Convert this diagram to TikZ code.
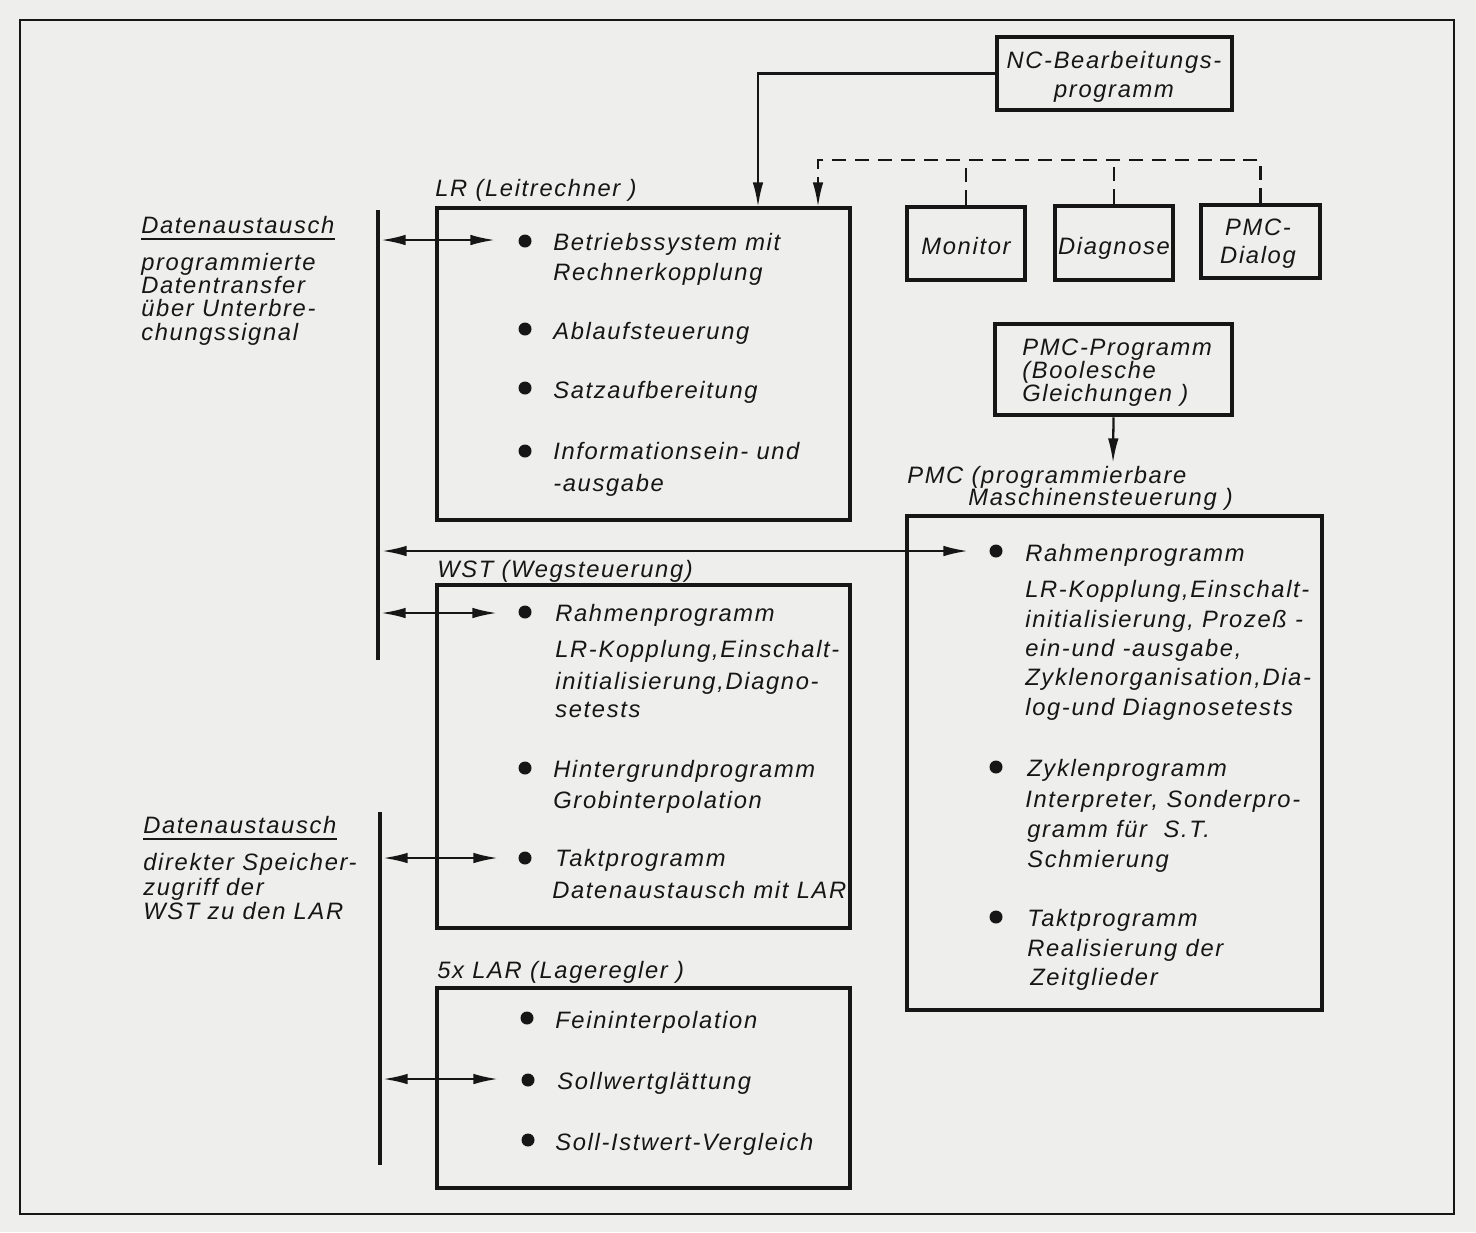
\documentclass[tikz,border=0pt]{standalone}
\usepackage{fontspec}
\newfontfamily\dinfont[LetterSpace=7.0]{Liberation Sans}
\usetikzlibrary{arrows.meta,calc}
\definecolor{paper}{RGB}{238,238,236}
\definecolor{ink}{RGB}{22,22,22}
\tikzset{arr/.tip={Latex[length=14pt,width=6pt]}}
\newcommand\mybox[5]{\node[box,minimum width={(#4-#2)*0.02cm},minimum height={(#5-#3)*0.02cm}] (#1) at ({(#2+#4)/2},{(#3+#5)/2}) {};}
\newcommand\tl[4]{\node[txt] (#1) at (#2,#3) {#4};}
\newcommand\ctl[4]{\node[ctxt] (#1) at (#2,#3) {#4};}
\newcommand\bul[2]{\fill[ink] (#1,#2) circle (6.5);}
\begin{document}
\begin{tikzpicture}[x=0.02cm,y=-0.02cm,
  txt/.style={inner sep=0pt, anchor=base west, font=\dinfont\itshape\fontsize{13.5}{16}\selectfont, text=ink},
  ctxt/.style={txt, anchor=base},
  box/.style={draw=ink, line width=2.8pt, inner sep=0pt},
  conn/.style={draw=ink, line width=1.3pt},
  dashline/.style={draw=ink, line width=1.3pt, dash pattern=on 8pt off 5pt},
  bus/.style={draw=ink, line width=2.8pt},
  frame/.style={draw=ink, line width=1.2pt}]
\fill[paper] (0,0) rectangle (1476,1232);
\useasboundingbox (0,0) rectangle (1476,1232);
\draw[frame] (20,20) rectangle (1454,1214);

% boxes
\mybox{nc}{997}{37}{1232}{110}
\mybox{mon}{907}{207}{1025}{280}
\mybox{diag}{1055}{206}{1173}{280}
\mybox{pmcd}{1201}{205}{1320}{278}
\mybox{lr}{437}{208}{850}{520}
\mybox{pmcp}{995}{324}{1232}{415}
\mybox{pmc}{907}{516}{1322}{1010}
\mybox{wst}{437}{585}{850}{928}
\mybox{lar}{437}{988}{850}{1188}

% box texts
\ctl{nc1}{1114}{68}{NC-Bearbeitungs-}
\ctl{nc2}{1114}{97}{programm}
\ctl{mont}{966}{254}{Monitor}
\ctl{diagt}{1114}{254}{Diagnose}
\ctl{pmcd1}{1258}{235}{PMC-}
\ctl{pmcd2}{1258}{263}{Dialog}
\tl{pp1}{1022}{355}{PMC-Programm}
\tl{pp2}{1022}{378}{(Boolesche}
\tl{pp3}{1022}{401}{Gleichungen )}

% labels
\tl{lrl}{435}{196}{LR (Leitrechner )}
\tl{wstl}{437}{577}{WST (Wegsteuerung)}
\tl{larl}{437}{978}{5x LAR (Lageregler )}
\tl{pmcl1}{907}{483}{PMC (programmierbare}
\tl{pmcl2}{968}{505}{Maschinensteuerung )}

% left texts
\tl{da1}{141}{233}{Datenaustausch}
\draw[conn] ($(da1.base west)+(0,6)$) -- ($(da1.base east)+(0,6)$);
\tl{da1a}{141}{270}{programmierte}
\tl{da1b}{141}{293}{Datentransfer}
\tl{da1c}{141}{316}{über Unterbre-}
\tl{da1d}{141}{340}{chungssignal}
\tl{da2}{143}{833}{Datenaustausch}
\draw[conn] ($(da2.base west)+(0,6)$) -- ($(da2.base east)+(0,6)$);
\tl{da2a}{143}{870}{direkter Speicher-}
\tl{da2b}{143}{895}{zugriff der}
\tl{da2c}{143}{919}{WST zu den LAR}

% LR items
\bul{525}{241}\tl{lr1}{553}{250}{Betriebssystem mit}
\tl{lr2}{553}{280}{Rechnerkopplung}
\bul{525}{329}\tl{lr3}{553}{339}{Ablaufsteuerung}
\bul{525}{388}\tl{lr4}{553}{398}{Satzaufbereitung}
\bul{525}{451}\tl{lr5}{553}{459}{Informationsein- und}
\tl{lr6}{553}{491}{-ausgabe}

% WST items
\bul{525}{612}\tl{w1}{555}{621}{Rahmenprogramm}
\tl{w2}{555}{657}{LR-Kopplung,Einschalt-}
\tl{w3}{555}{689}{initialisierung,Diagno-}
\tl{w4}{555}{717}{setests}
\bul{525}{768}\tl{w5}{553}{777}{Hintergrundprogramm}
\tl{w6}{553}{808}{Grobinterpolation}
\bul{525}{858}\tl{w7}{555}{866}{Taktprogramm}
\tl{w8}{552}{898}{Datenaustausch mit LAR}

% LAR items
\bul{527}{1018}\tl{l1}{555}{1028}{Feininterpolation}
\bul{528}{1080}\tl{l2}{557}{1089}{Sollwertglättung}
\bul{528}{1140}\tl{l3}{555}{1150}{Soll-Istwert-Vergleich}

% PMC items
\bul{996}{551}\tl{p1}{1025}{561}{Rahmenprogramm}
\tl{p2}{1025}{597}{LR-Kopplung,Einschalt-}
\tl{p3}{1025}{627}{initialisierung, Prozeß -}
\tl{p4}{1025}{656}{ein-und -ausgabe,}
\tl{p5}{1025}{685}{Zyklenorganisation,Dia-}
\tl{p6}{1025}{715}{log-und Diagnosetests}
\bul{996}{767}\tl{p7}{1027}{776}{Zyklenprogramm}
\tl{p8}{1025}{807}{Interpreter, Sonderpro-}
\tl{p9}{1027}{837}{gramm für~~S.T.}
\tl{p10}{1027}{867}{Schmierung}
\bul{996}{917}\tl{p11}{1027}{926}{Taktprogramm}
\tl{p12}{1027}{956}{Realisierung der}
\tl{p13}{1030}{985}{Zeitglieder}

% connectors from top
\coordinate (lrA) at (758,207);
\coordinate (lrB) at (818,207);
\coordinate (dL) at (818,160);
\draw[conn,-arr] (nc.west) -| (lrA);
\draw[dashline,-arr] (pmcd.north) |- (dL) -- (lrB);
\draw[dashline] (mon.north) -- (mon.north |- dL);
\draw[dashline] (diag.north) -- (diag.north |- dL);
\coordinate (pmcArr) at (1113,463);
\draw[conn,-arr] (pmcp.south) -- (pmcArr);

% buses
\coordinate (b1t) at (378,210);
\coordinate (b1b) at (378,660);
\coordinate (b2t) at (380,812);
\coordinate (b2b) at (380,1165);
\draw[bus] (b1t) -- (b1b);
\draw[bus] (b2t) -- (b2b);

% double arrows
\coordinate (e1) at (495,240);
\coordinate (e2) at (968,551);
\coordinate (e3) at (497,613);
\coordinate (e4) at (498,858);
\coordinate (e5) at (498,1079);
\coordinate (s1) at (381,240);
\coordinate (s2) at (382,551);
\coordinate (s3) at (381,613);
\coordinate (s4) at (383,858);
\coordinate (s5) at (383,1079);
\draw[conn,arr-arr] (s1) -- (e1);
\draw[conn,arr-arr] (s2) -- (e2);
\draw[conn,arr-arr] (s3) -- (e3);
\draw[conn,arr-arr] (s4) -- (e4);
\draw[conn,arr-arr] (s5) -- (e5);
\end{tikzpicture}
\end{document}
